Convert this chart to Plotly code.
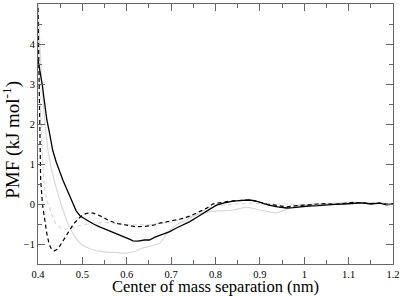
import plotly.graph_objects as go

# Solid black
x_solid = [0.400, 0.405, 0.410, 0.414, 0.420, 0.426, 0.433, 0.441, 0.448, 0.456, 0.463, 0.471, 0.480, 0.486, 0.495, 0.509, 0.525, 0.539, 0.557, 0.576, 0.592, 0.606, 0.614, 0.625, 0.640, 0.651, 0.665, 0.680, 0.697, 0.712, 0.727, 0.742, 0.760, 0.779, 0.790, 0.802, 0.820, 0.840, 0.860, 0.877, 0.890, 0.905, 0.920, 0.940, 0.960, 0.975, 0.990, 1.010, 1.030, 1.050, 1.070, 1.090, 1.110, 1.130, 1.150, 1.170, 1.185, 1.200]
y_solid = [3.60, 3.30, 2.95, 2.60, 2.10, 1.77, 1.35, 1.05, 0.82, 0.60, 0.42, 0.20, -0.02, -0.17, -0.30, -0.40, -0.50, -0.57, -0.65, -0.73, -0.82, -0.88, -0.92, -0.93, -0.90, -0.90, -0.82, -0.76, -0.69, -0.60, -0.52, -0.44, -0.32, -0.19, -0.10, -0.03, 0.03, 0.07, 0.09, 0.10, 0.08, 0.03, -0.03, -0.07, -0.10, -0.09, -0.07, -0.05, -0.04, -0.02, -0.01, 0.00, 0.02, 0.03, 0.00, 0.02, -0.02, 0.00]

# Dashed black
x_dash = [0.400, 0.402, 0.404, 0.406, 0.410, 0.415, 0.420, 0.425, 0.430, 0.437, 0.445, 0.452, 0.460, 0.470, 0.480, 0.490, 0.500, 0.508, 0.516, 0.525, 0.535, 0.545, 0.560, 0.580, 0.600, 0.621, 0.640, 0.660, 0.674, 0.690, 0.710, 0.727, 0.745, 0.764, 0.779, 0.794, 0.810, 0.825, 0.840, 0.860, 0.877, 0.895, 0.915, 0.935, 0.960, 0.975, 0.990, 1.010, 1.030, 1.050, 1.070, 1.090, 1.110, 1.130, 1.150, 1.170, 1.185, 1.200]
y_dash = [4.90, 3.00, 1.60, 0.60, 0.00, -0.45, -0.75, -1.00, -1.12, -1.17, -1.12, -1.00, -0.85, -0.66, -0.50, -0.38, -0.28, -0.24, -0.22, -0.23, -0.27, -0.32, -0.42, -0.49, -0.53, -0.57, -0.56, -0.53, -0.48, -0.45, -0.40, -0.36, -0.29, -0.19, -0.11, 0.00, 0.04, 0.06, 0.08, 0.09, 0.10, 0.06, 0.00, -0.03, -0.07, -0.05, -0.03, -0.02, 0.00, 0.01, -0.01, 0.02, 0.04, 0.03, 0.01, 0.02, 0.00, 0.00]

# Light gray solid
x_lsolid = [0.400, 0.405, 0.410, 0.415, 0.420, 0.426, 0.433, 0.440, 0.452, 0.467, 0.480, 0.497, 0.520, 0.545, 0.570, 0.600, 0.620, 0.636, 0.655, 0.674, 0.688, 0.700, 0.715, 0.734, 0.760, 0.787, 0.810, 0.840, 0.870, 0.900, 0.937, 0.960, 0.990, 1.020, 1.050, 1.080, 1.110, 1.140, 1.170, 1.200]
y_lsolid = [5.00, 3.80, 2.80, 2.10, 1.55, 1.10, 0.75, 0.45, 0.00, -0.48, -0.76, -1.00, -1.13, -1.19, -1.21, -1.23, -1.18, -1.10, -1.05, -0.98, -0.78, -0.62, -0.50, -0.40, -0.26, -0.19, -0.17, -0.15, -0.08, -0.15, -0.22, -0.13, -0.03, 0.00, -0.01, 0.02, 0.04, 0.02, 0.03, 0.00]

# Light gray dashed
x_ldash = [0.400, 0.405, 0.410, 0.414, 0.420, 0.430, 0.440, 0.455, 0.470, 0.490, 0.520, 0.550, 0.600, 0.650, 0.700, 0.750, 0.780, 0.800, 0.850, 0.880, 0.920, 0.960, 1.000, 1.050, 1.100, 1.150, 1.200]
y_ldash = [4.80, 2.50, 1.20, 0.43, 0.10, -0.23, -0.50, -0.63, -0.62, -0.55, -0.48, -0.46, -0.52, -0.52, -0.45, -0.30, -0.12, -0.05, 0.00, 0.02, 0.00, 0.00, -0.02, 0.02, 0.05, 0.03, 0.00]

x_ticks = [0.4, 0.5, 0.6, 0.7, 0.8, 0.9, 1.0, 1.1, 1.2]
x_tick_text = ["0.4", "0.5", "0.6", "0.7", "0.8", "0.9", "1", "1.1", "1.2"]
y_ticks = [-1, 0, 1, 2, 3, 4, 5]

LIGHT = "#d9d9d9"
SERIF = "Liberation Serif, Times New Roman, serif"
fig = go.Figure()
fig.add_trace(go.Scatter(x=x_lsolid, y=y_lsolid, mode="lines", line=dict(color=LIGHT, width=1.2, shape="spline", smoothing=0.6)))
fig.add_trace(go.Scatter(x=x_ldash, y=y_ldash, mode="lines", line=dict(color=LIGHT, width=1.2, dash="4px,3px")))
fig.add_trace(go.Scatter(x=x_dash, y=y_dash, mode="lines", line=dict(color="black", width=1.2, dash="4px,3px")))
fig.add_trace(go.Scatter(x=x_solid, y=y_solid, mode="lines", line=dict(color="black", width=1.3)))

axis_common = dict(
    showgrid=False, zeroline=False, showline=True, linecolor="#666666", linewidth=1,
    mirror="ticks", ticks="inside", ticklen=7, tickwidth=1, tickcolor="#666666",
    tickfont=dict(family=SERIF, size=10.5, color="black"), automargin=False,
)
fig.update_xaxes(range=[0.4, 1.2], tickvals=x_ticks, ticktext=x_tick_text,
                 minor=dict(dtick=0.05, ticks="inside", ticklen=4, tickcolor="#666666", showgrid=False),
                 **axis_common)
fig.update_yaxes(range=[-1.5, 5], tickvals=y_ticks,
                 minor=dict(dtick=0.5, ticks="inside", ticklen=4, tickcolor="#666666", showgrid=False),
                 **axis_common)
fig.add_annotation(text="Center of mass separation (nm)", xref="paper", yref="paper",
                   x=0.5, y=-0.0865, xanchor="center", yanchor="middle", showarrow=False, borderpad=0,
                   font=dict(family=SERIF, size=16.5, color="black"))
fig.add_annotation(text="PMF (kJ mol<sup>-1</sup>)", xref="paper", yref="paper",
                   x=-0.074, y=0.477, xanchor="center", yanchor="middle", showarrow=False, textangle=-90,
                   font=dict(family=SERIF, size=19, color="black"))
fig.update_layout(width=400, height=296, margin=dict(l=38, r=7, t=4, b=32),
                  plot_bgcolor="white", paper_bgcolor="white", showlegend=False)
fig.write_html("out.html", config={"displayModeBar": False},
               post_script="document.body.style.margin='0';document.body.style.overflow='hidden';")
